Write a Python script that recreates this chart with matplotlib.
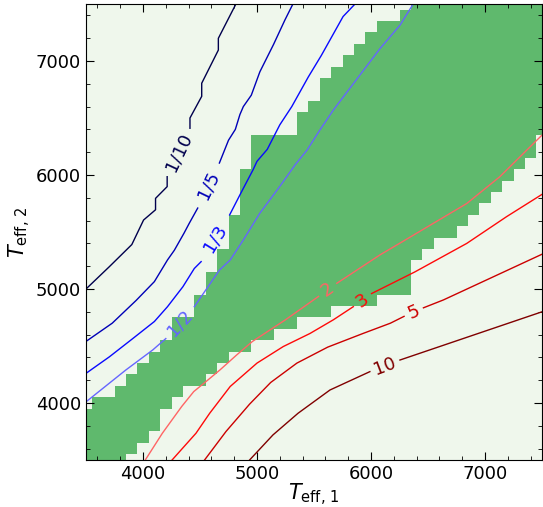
import matplotlib
matplotlib.use("Agg")
import matplotlib.pyplot as plt
import numpy as np
from matplotlib.colors import ListedColormap, LogNorm
from matplotlib.ticker import MultipleLocator

# cell centres of the temperature grid (K)
teff_grid = np.arange(3500, 7501, 100)

# allowed Teff,2 range for every Teff,1 column of the grid
band_low = [3500, 3500, 3500, 3500, 3600, 3700, 3800, 4000, 4100, 4200,
            4200, 4300, 4400, 4500, 4500, 4600, 4600, 4700, 4700, 4800,
            4800, 4800, 4900, 4900, 4900, 4900, 5000, 5000, 5000, 5300,
            5400, 5500, 5500, 5600, 5700, 5800, 5900, 6000, 6100, 6200,
            6400]
band_high = [3900, 4000, 4000, 4100, 4200, 4300, 4400, 4500, 4700, 4700,
             4900, 5100, 5300, 5600, 6000, 6300, 6300, 6300, 6300, 6500,
             6600, 6800, 6900, 7000, 7100, 7200, 7300, 7300, 7400, 7500,
             7500, 7500, 7500, 7500, 7500, 7500, 7500, 7500, 7500, 7500,
             7500]

# flux ratio contours, (Teff1, Teff2) vertices; each is split in two where the label goes
ratio_levels = [1/10, 1/5, 1/3, 1/2, 2, 3, 5, 10]
ratio_names = ["1/10", "1/5", "1/3", "1/2", "2", "3", "5", "10"]
ratio_paths = {
    "1/10": ([(3500, 5000), (3705, 5196), (3902, 5390), (4005, 5605), (4110, 5695),
              (4110, 5795), (4212, 5898), (4212, 5985)],
             [(4412, 6410), (4412, 6500), (4515, 6690), (4515, 6805), (4661, 7096),
              (4661, 7199), (4815, 7500)]),
    "1/5": ([(3500, 4540), (3730, 4700), (3940, 4900), (4100, 5065), (4215, 5255),
             (4275, 5340), (4360, 5490), (4405, 5575), (4480, 5710)],
            [(4670, 6105), (4750, 6305), (4810, 6400), (4850, 6530), (4880, 6600),
             (4950, 6700), (5025, 6905), (5145, 7145), (5245, 7360), (5315, 7500)]),
    "1/3": ([(3500, 4260), (3705, 4405), (3910, 4565), (4100, 4715), (4215, 4845),
             (4350, 5020), (4450, 5180), (4510, 5240)],
            [(4760, 5650), (4855, 5835), (4965, 6045), (5000, 6120), (5090, 6225),
             (5200, 6440), (5305, 6600), (5450, 6860), (5565, 7050), (5755, 7390),
             (5860, 7500)]),
    "1/2": ([(3500, 4010), (3850, 4290), (4085, 4465), (4200, 4565)],
            [(4450, 4845), (4670, 5165), (4765, 5255), (4880, 5430), (5025, 5665),
             (5200, 5900), (5335, 6090), (5440, 6220), (5555, 6400), (5670, 6570),
             (5905, 6880), (6080, 7110), (6255, 7315), (6370, 7500)]),
    "2": ([(4020, 3500), (4170, 3735), (4340, 3970), (4445, 4100), (4555, 4190),
           (4675, 4290), (4820, 4420), (4960, 4540), (5250, 4730), (5540, 4935)],
          [(5700, 5050), (6080, 5300), (6250, 5400), (6840, 5750), (7130, 5985),
           (7500, 6350)]),
    "3": ([(4255, 3500), (4465, 3735), (4585, 3910), (4765, 4145), (5000, 4350),
           (5230, 4495), (5465, 4610), (5670, 4730), (5845, 4845)],
          [(6005, 4960), (6385, 5150), (6840, 5400), (7190, 5635), (7500, 5830)]),
    "5": ([(4540, 3500), (4728, 3750), (4935, 3990), (5120, 4180), (5350, 4350),
           (5620, 4490), (5930, 4610), (6170, 4700), (6290, 4760)],
          [(6460, 4835), (6635, 4904), (7500, 5305)]),
    "10": ([(4935, 3500), (5140, 3720), (5360, 3910), (5640, 4114), (5990, 4275)],
           [(6254, 4377), (7500, 4800)]),
}

pale = "#eff7ec"
green = "#5fb96d"

fig = plt.figure(figsize=(5.43, 5.07), dpi=100)
ax = fig.add_axes([86 / 543, 47 / 507, 456 / 543, 456 / 507])

# allowed region on the grid
t1, t2 = np.meshgrid(teff_grid, teff_grid)
low = np.array(band_low)[None, :]
high = np.array(band_high)[None, :]
allowed = ((t2 >= low) & (t2 <= high)).astype(float)
ax.pcolormesh(teff_grid, teff_grid, allowed, shading="nearest",
              cmap=ListedColormap([pale, green]), vmin=0, vmax=1)

ax.set_xlim(3500, 7500)
ax.set_ylim(3500, 7500)

cmap = plt.get_cmap("seismic")
norm = LogNorm(vmin=0.1, vmax=10)

for level, name in zip(ratio_levels, ratio_names):
    color = cmap(norm(level))
    seg_a, seg_b = ratio_paths[name]
    for seg in (seg_a, seg_b):
        xs, ys = zip(*seg)
        ax.plot(xs, ys, color=color, lw=1.0)
    # label sits in the gap, turned along it
    p0 = np.array(seg_a[-1], dtype=float)
    p1 = np.array(seg_b[0], dtype=float)
    mid = (p0 + p1) / 2
    s0 = ax.transData.transform(p0)
    s1 = ax.transData.transform(p1)
    angle = np.degrees(np.arctan2(s1[1] - s0[1], s1[0] - s0[0]))
    ax.text(mid[0], mid[1], name, color=color, fontsize=13, rotation=angle,
            rotation_mode="anchor", ha="center", va="center")

ax.xaxis.set_major_locator(MultipleLocator(1000))
ax.yaxis.set_major_locator(MultipleLocator(1000))
ax.xaxis.set_minor_locator(MultipleLocator(200))
ax.yaxis.set_minor_locator(MultipleLocator(200))
ax.tick_params(which="both", direction="in", top=True, right=True)
ax.tick_params(which="major", length=6, labelsize=13)
ax.tick_params(which="minor", length=3)

ax.set_xlabel(r"$T_{\rm eff,\,1}$", fontsize=15, labelpad=-1)
ax.set_ylabel(r"$T_{\rm eff,\,2}$", fontsize=15, labelpad=2)

fig.savefig("out.png", dpi=100)
